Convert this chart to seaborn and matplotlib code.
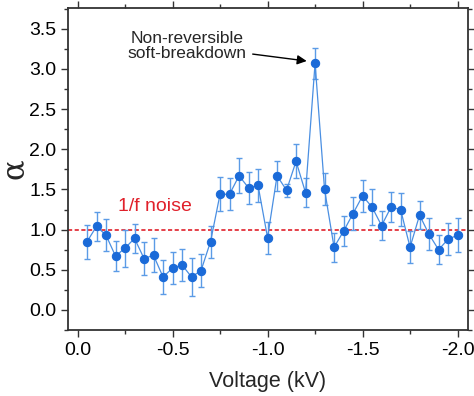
import numpy as np
import pandas as pd
import matplotlib
matplotlib.use('Agg')
import matplotlib.pyplot as plt
import seaborn as sns
from matplotlib.ticker import MultipleLocator

voltage = [-0.05, -0.10, -0.15, -0.20, -0.25, -0.30, -0.35, -0.40, -0.45, -0.50,
           -0.55, -0.60, -0.65, -0.70, -0.75, -0.80, -0.85, -0.90, -0.95, -1.00,
           -1.05, -1.10, -1.15, -1.20, -1.25, -1.30, -1.35, -1.40, -1.45, -1.50,
           -1.55, -1.60, -1.65, -1.70, -1.75, -1.80, -1.85, -1.90, -1.95, -2.00]
alpha = [0.85, 1.04, 0.93, 0.67, 0.77, 0.89, 0.64, 0.68, 0.41, 0.52,
         0.56, 0.41, 0.49, 0.85, 1.44, 1.44, 1.67, 1.52, 1.55, 0.90,
         1.67, 1.49, 1.85, 1.46, 3.07, 1.50, 0.78, 0.98, 1.20, 1.42,
         1.28, 1.05, 1.28, 1.25, 0.78, 1.18, 0.94, 0.75, 0.88, 0.93]
alpha_err = [0.21, 0.18, 0.20, 0.19, 0.23, 0.18, 0.20, 0.21, 0.21, 0.20,
             0.20, 0.24, 0.21, 0.20, 0.21, 0.20, 0.22, 0.20, 0.21, 0.20,
             0.19, 0.08, 0.21, 0.18, 0.19, 0.20, 0.18, 0.19, 0.21, 0.20,
             0.22, 0.18, 0.19, 0.20, 0.20, 0.17, 0.20, 0.18, 0.20, 0.21]

df = pd.DataFrame({'voltage': voltage, 'alpha': alpha, 'err': alpha_err})

sns.set_style('ticks')
plt.rcParams['font.family'] = ['Liberation Sans', 'DejaVu Sans']

fig = plt.figure(figsize=(4.74, 3.96), dpi=100)
ax = fig.add_axes([0.1435, 0.1667, 0.8435, 0.8133])

#error bars first, then the line with markers on top
ax.errorbar(df['voltage'], df['alpha'], yerr=df['err'], fmt='none',
            ecolor='#5b9be6', elinewidth=1.0, capsize=2.5, capthick=1.0, zorder=2)
sns.lineplot(data=df, x='voltage', y='alpha', ax=ax, color='#4a8fe2', linewidth=0.9,
             marker='o', markersize=6, markerfacecolor='#1a6ad8', markeredgecolor='#1a6ad8',
             zorder=3)

#1/f noise reference line
ax.axhline(1.0, color='#e0202a', linestyle=(0, (2.5, 1.5)), linewidth=1.2, zorder=1)
ax.text(-0.41, 1.29, '1/f noise', color='#e0202a', fontsize=14, ha='center', va='center')

ax.annotate('Non-reversible\nsoft-breakdown', xy=(-1.235, 3.09), xytext=(-0.577, 3.29),
            ha='center', va='center', fontsize=12.5, linespacing=1.0,
            arrowprops=dict(arrowstyle='-|>', color='black', lw=1.0,
                            mutation_scale=14, shrinkA=2, shrinkB=4))

ax.set_xlim(0.05, -2.054)
ax.set_ylim(-0.25, 3.76)
ax.xaxis.set_major_locator(MultipleLocator(0.5))
ax.xaxis.set_minor_locator(MultipleLocator(0.25))
ax.yaxis.set_major_locator(MultipleLocator(0.5))
ax.yaxis.set_minor_locator(MultipleLocator(0.25))
ax.xaxis.set_major_formatter(plt.FuncFormatter(lambda v, p: f'{v:.1f}' if abs(v) > 1e-9 else '0.0'))

ax.tick_params(which='both', direction='out', top=True, right=True, width=1.0, colors='#333333')
ax.tick_params(which='major', length=5, labelsize=14, labelcolor='black')
ax.tick_params(which='minor', length=3)
for s in ax.spines.values():
    s.set_linewidth(1.3)
    s.set_color('#333333')

ax.set_xlabel('Voltage (kV)', fontsize=15.5, labelpad=9)
ax.set_ylabel('α', fontsize=22, family=['DejaVu Serif'], va='center')
ax.yaxis.set_label_coords(-0.135, 0.5)

fig.savefig('out.png', dpi=100)
